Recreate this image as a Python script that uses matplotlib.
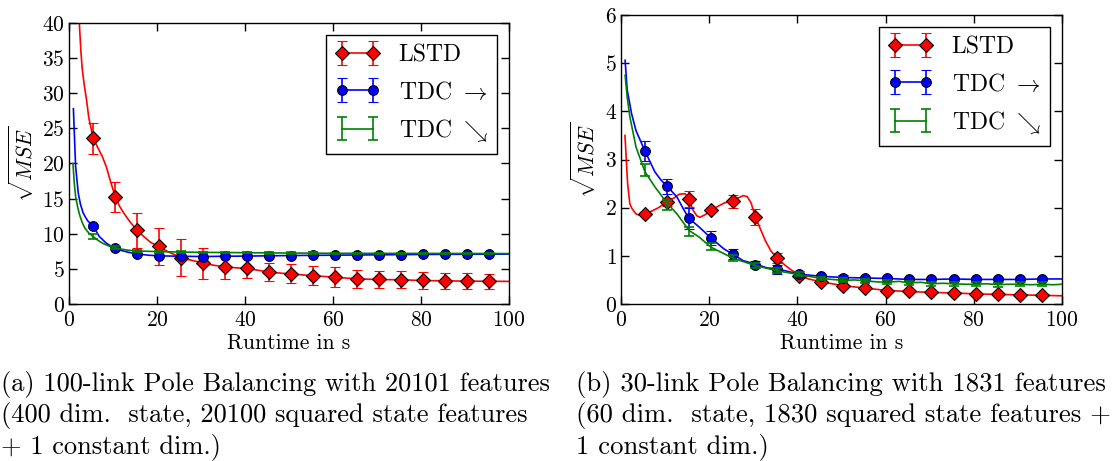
import matplotlib
matplotlib.use("Agg")
import matplotlib.pyplot as plt

# ---------------- data: panel (a) ----------------
a_marker_x = [5.5, 10.5, 15.5, 20.5, 25.5, 30.5, 35.5, 40.5, 45.5, 50.5,
              55.5, 60.5, 65.5, 70.5, 75.5, 80.5, 85.5, 90.5, 95.5]
a_lstd_y = [23.6, 15.2, 10.5, 8.2, 6.6, 5.8, 5.3, 5.1, 4.55, 4.3,
            4.05, 3.8, 3.6, 3.5, 3.45, 3.35, 3.3, 3.25, 3.25]
a_lstd_err = [2.2, 2.1, 2.5, 2.6, 2.6, 2.2, 1.7, 1.4, 1.3, 1.35,
              1.35, 1.4, 1.3, 1.25, 1.2, 1.15, 1.1, 1.1, 1.05]
a_tdc1_y = [11.1, 8.0, 7.15, 6.85, 6.8, 6.75, 6.8, 6.82, 6.85, 6.9,
            6.92, 6.95, 6.98, 7.0, 7.02, 7.05, 7.07, 7.08, 7.1]
a_tdc1_err = [0.3, 0.2, 0.15, 0.12, 0.1, 0.1, 0.1, 0.1, 0.1, 0.1,
              0.1, 0.1, 0.1, 0.1, 0.1, 0.1, 0.1, 0.1, 0.1]
a_tdc2_y = [9.6, 8.0, 7.55, 7.45, 7.4, 7.35, 7.32, 7.3, 7.28, 7.25,
            7.24, 7.22, 7.21, 7.2, 7.2, 7.19, 7.18, 7.17, 7.16]
a_tdc2_err = [0.4, 0.2, 0.15, 0.12, 0.1, 0.1, 0.1, 0.1, 0.1, 0.1,
              0.1, 0.1, 0.1, 0.1, 0.1, 0.1, 0.1, 0.1, 0.1]

a_lstd_line_x = [1.5, 2.0, 2.3, 2.7, 3.0, 3.5, 4.0, 4.5, 5.5, 6.5, 7.5, 8.5,
                 9.5, 10.5, 11.5, 12.5, 13.5, 14.5, 15.5, 17, 18.5, 20.5, 23,
                 25.5, 28, 30.5, 33, 35.5, 38, 40.5, 43, 45.5, 48, 50.5, 55.5,
                 60.5, 65.5, 70.5, 75.5, 80.5, 85.5, 90.5, 95.5, 100]
a_lstd_line_y = [52, 44, 40.5, 36, 33.5, 31, 29, 26.5, 23.6, 22.3, 21.1, 19.5,
                 17.3, 15.3, 13.9, 12.9, 12.0, 11.2, 10.5, 9.6, 8.8, 8.1, 7.3,
                 6.6, 6.2, 5.85, 5.5, 5.3, 5.15, 5.05, 4.8, 4.55, 4.4, 4.27,
                 4.03, 3.8, 3.58, 3.48, 3.45, 3.33, 3.3, 3.25, 3.24, 3.22]
a_tdc1_line_x = [1.0, 1.5, 2.1, 2.6, 3.2, 3.7, 4.3, 5.5, 6.9, 8.4, 9.5,
                 10.5, 12, 13.5, 15.5, 18, 20.5, 25.5, 30.5, 35.5, 40.5, 50.5,
                 60.5, 70.5, 80.5, 90.5, 100]
a_tdc1_line_y = [27.8, 19.6, 15.8, 14.2, 13.0, 12.4, 11.8, 11.06, 9.6, 8.7,
                 8.25, 7.97, 7.6, 7.36, 7.12, 6.95, 6.85, 6.8, 6.75, 6.8, 6.82,
                 6.9, 6.95, 7.0, 7.05, 7.08, 7.1]
a_tdc2_line_x = [0.9, 1.2, 1.5, 2.0, 2.5, 3.0, 3.6, 4.5, 5.5, 6.5, 7.5,
                 8.5, 9.5, 10.5, 12, 13.5, 15.5, 20.5, 25.5, 30.5, 40.5, 50.5,
                 60.5, 80.5, 100]
a_tdc2_line_y = [20.0, 17.2, 15.3, 13.7, 12.5, 11.6, 10.8, 10.1, 9.6,
                 9.1, 8.7, 8.4, 8.15, 8.0, 7.8, 7.65, 7.55, 7.45, 7.4, 7.35,
                 7.3, 7.25, 7.22, 7.2, 7.18]

# ---------------- data: panel (b) ----------------
b_marker_x = [5.4, 10.4, 15.4, 20.4, 25.4, 30.4, 35.4, 40.4, 45.4, 50.4,
              55.4, 60.4, 65.4, 70.4, 75.4, 80.4, 85.4, 90.4, 95.4]
b_lstd_y = [1.86, 2.12, 2.18, 1.95, 2.13, 1.81, 0.96, 0.58, 0.46, 0.37,
            0.33, 0.28, 0.26, 0.24, 0.22, 0.21, 0.2, 0.19, 0.18]
b_lstd_err = [0.04, 0.08, 0.17, 0.05, 0.13, 0.16, 0.1, 0.05, 0.04, 0.03,
              0.03, 0.03, 0.03, 0.03, 0.03, 0.02, 0.02, 0.02, 0.02]
b_tdc1_y = [3.18, 2.44, 1.78, 1.37, 1.04, 0.82, 0.72, 0.63, 0.575, 0.55,
            0.54, 0.53, 0.51, 0.51, 0.52, 0.51, 0.51, 0.51, 0.52]
b_tdc1_err = [0.21, 0.15, 0.22, 0.15, 0.11, 0.08, 0.09, 0.06, 0.05, 0.05,
              0.05, 0.05, 0.05, 0.05, 0.05, 0.05, 0.05, 0.05, 0.05]
b_tdc2_y = [2.78, 2.05, 1.51, 1.2, 0.96, 0.8, 0.69, 0.62, 0.53, 0.49,
            0.48, 0.45, 0.44, 0.42, 0.42, 0.41, 0.4, 0.41, 0.41]
b_tdc2_err = [0.12, 0.1, 0.09, 0.07, 0.06, 0.05, 0.05, 0.04, 0.04, 0.04,
              0.04, 0.04, 0.04, 0.04, 0.04, 0.04, 0.04, 0.04, 0.04]

b_lstd_line_x = [0.9, 1.2, 1.5, 2.0, 2.5, 3.4, 4.3, 5.4, 7.0, 8.5, 10.4, 12.0,
                 13.2, 14.5, 15.4, 16.2, 17.2, 17.9, 19.2, 20.4, 22.0, 23.5,
                 25.4, 26.5, 27.7, 28.6, 29.5, 30.4, 32.7, 34.0, 35.4, 37.0,
                 38.4, 40.4, 42.5, 45.4, 50.4, 55.4, 60.4, 65.4, 70.4, 75.4,
                 80.4, 85.4, 90.4, 95.4, 100]
b_lstd_line_y = [3.5, 3.0, 2.5, 2.08, 1.98, 1.87, 1.84, 1.86, 1.93, 2.0, 2.12,
                 2.2, 2.28, 2.29, 2.2, 1.97, 1.83, 1.8, 1.86, 1.95, 2.03, 2.1,
                 2.14, 2.2, 2.25, 2.23, 2.1, 1.82, 1.32, 1.1, 0.96, 0.82, 0.72,
                 0.6, 0.52, 0.46, 0.38, 0.33, 0.28, 0.26, 0.24, 0.23, 0.21,
                 0.2, 0.19, 0.18, 0.17]
b_tdc1_line_x = [0.93, 1.4, 2.4, 3.4, 5.4, 7.7, 9.1, 10.4, 12.7, 14.1, 15.4,
                 17.7, 20.4, 23.4, 25.4, 27.7, 30.4, 33.1, 35.4, 40.4, 45.4,
                 50.4, 55.4, 60.4, 65.4, 70.4, 75.4, 80.4, 85.4, 90.4, 95.4,
                 100]
b_tdc1_line_y = [5.06, 4.45, 3.95, 3.6, 3.18, 2.74, 2.57, 2.45, 2.22, 1.98,
                 1.78, 1.6, 1.37, 1.14, 1.03, 0.9, 0.83, 0.75, 0.73, 0.62,
                 0.575, 0.55, 0.54, 0.53, 0.51, 0.51, 0.52, 0.51, 0.51, 0.51,
                 0.52, 0.52]
b_tdc2_line_x = [0.93, 1.4, 2.0, 3.4, 5.4, 7.7, 10.4, 12.7, 15.4, 17.7, 20.4,
                 25.4, 30.4, 35.4, 40.4, 45.4, 50.4, 53, 55.4, 58, 60.4, 63,
                 65.4, 68, 70.4, 73, 75.4, 78, 80.4, 83, 85.4, 88, 90.4, 93,
                 95.4, 98, 100]
b_tdc2_line_y = [4.75, 4.3, 3.89, 3.26, 2.75, 2.43, 2.1, 1.87, 1.53, 1.39,
                 1.18, 0.95, 0.8, 0.69, 0.61, 0.53, 0.49, 0.5, 0.48, 0.46, 0.45,
                 0.47, 0.44, 0.45, 0.42, 0.43, 0.42, 0.41, 0.41, 0.42, 0.4,
                 0.41, 0.41, 0.4, 0.41, 0.4, 0.41]

series_labels = ["LSTD", r"TDC $\rightarrow$", r"TDC $\searrow$"]
x_label = "Runtime in s"
y_label = r"$\sqrt{MSE}$"
caption_a = ["(a) 100-link Pole Balancing with 20101 features",
             "(400 dim.  state, 20100 squared state features",
             "+ 1 constant dim.)"]
caption_b = ["(b) 30-link Pole Balancing with 1831 features",
             "(60 dim.  state, 1830 squared state features +",
             "1 constant dim.)"]

# ---------------- style ----------------
plt.rcParams.update({
    "font.family": "cmr10",
    "mathtext.fontset": "cm",
    "axes.formatter.use_mathtext": True,
    "xtick.direction": "in", "ytick.direction": "in",
    "xtick.top": True, "ytick.right": True,
    "xtick.major.size": 6, "ytick.major.size": 6,
    "xtick.major.width": 1.0, "ytick.major.width": 1.0,
    "xtick.major.pad": 5, "ytick.major.pad": 3,
    "xtick.labelsize": 15.5, "ytick.labelsize": 15.5,
    "axes.linewidth": 1.0,
})

RED, BLUE, GREEN = "#ff0000", "#0000ff", "#008000"

fig = plt.figure(figsize=(11.12, 4.61), dpi=100)
ax_a = fig.add_axes([69 / 1112, 1 - 304 / 461, 440 / 1112, 281 / 461])
ax_b = fig.add_axes([621 / 1112, 1 - 304 / 461, 441 / 1112, 289 / 461])


def draw(ax, mx, lstd, lstd_e, t1, t1_e, t2, t2_e,
         l_lx, l_ly, t1_lx, t1_ly, t2_lx, t2_ly, ylim, yticks):
    ax.plot(l_lx, l_ly, color=RED, lw=1.2, zorder=2)
    e1 = ax.errorbar(mx, lstd, yerr=lstd_e, fmt="-D", color=RED, mec="black",
                     mew=0.8, ms=7, capsize=3.5, capthick=1.2, elinewidth=1.2,
                     lw=1.2, label=series_labels[0], zorder=3)
    ax.plot(t1_lx, t1_ly, color=BLUE, lw=1.2, zorder=4)
    e2 = ax.errorbar(mx, t1, yerr=t1_e, fmt="-o", color=BLUE, mec="black",
                     mew=0.8, ms=7, capsize=3.5, capthick=1.2, elinewidth=1.2,
                     lw=1.2, label=series_labels[1], zorder=5)
    ax.plot(t2_lx, t2_ly, color=GREEN, lw=1.2, zorder=6)
    e3 = ax.errorbar(mx, t2, yerr=t2_e, fmt="-", color=GREEN,
                     capsize=3.5, capthick=1.2, elinewidth=1.2,
                     lw=1.2, label=series_labels[2], zorder=6)
    ax.set_xlim(0, 100)
    ax.set_ylim(*ylim)
    ax.set_xticks([0, 20, 40, 60, 80, 100])
    ax.set_yticks(yticks)
    ax.set_xlabel(x_label, fontsize=15.5, labelpad=2)
    ax.set_ylabel(y_label, fontsize=15.5, labelpad=4)
    leg = ax.legend(loc="upper right", numpoints=2, fontsize=17,
                    handlelength=1.9, handletextpad=0.8, labelspacing=0.6,
                    borderaxespad=0.5, fancybox=False, framealpha=1,
                    edgecolor="black")
    leg.get_frame().set_linewidth(1.0)
    # connecting lines were only needed for the legend entries
    for e in (e1, e2, e3):
        e[0].set_linestyle("none")


draw(ax_a, a_marker_x, a_lstd_y, a_lstd_err, a_tdc1_y, a_tdc1_err,
     a_tdc2_y, a_tdc2_err, a_lstd_line_x, a_lstd_line_y,
     a_tdc1_line_x, a_tdc1_line_y, a_tdc2_line_x, a_tdc2_line_y,
     (0, 40), [0, 5, 10, 15, 20, 25, 30, 35, 40])
draw(ax_b, b_marker_x, b_lstd_y, b_lstd_err, b_tdc1_y, b_tdc1_err,
     b_tdc2_y, b_tdc2_err, b_lstd_line_x, b_lstd_line_y,
     b_tdc1_line_x, b_tdc1_line_y, b_tdc2_line_x, b_tdc2_line_y,
     (0, 6), [0, 1, 2, 3, 4, 5, 6])

for i, line in enumerate(caption_a):
    fig.text(1 / 1112, 1 - (391 + 31 * i) / 461, line, fontsize=19,
             va="baseline", ha="left")
for i, line in enumerate(caption_b):
    fig.text(576 / 1112, 1 - (391 + 31 * i) / 461, line, fontsize=19.2,
             va="baseline", ha="left")

fig.savefig("out.png", dpi=100)
